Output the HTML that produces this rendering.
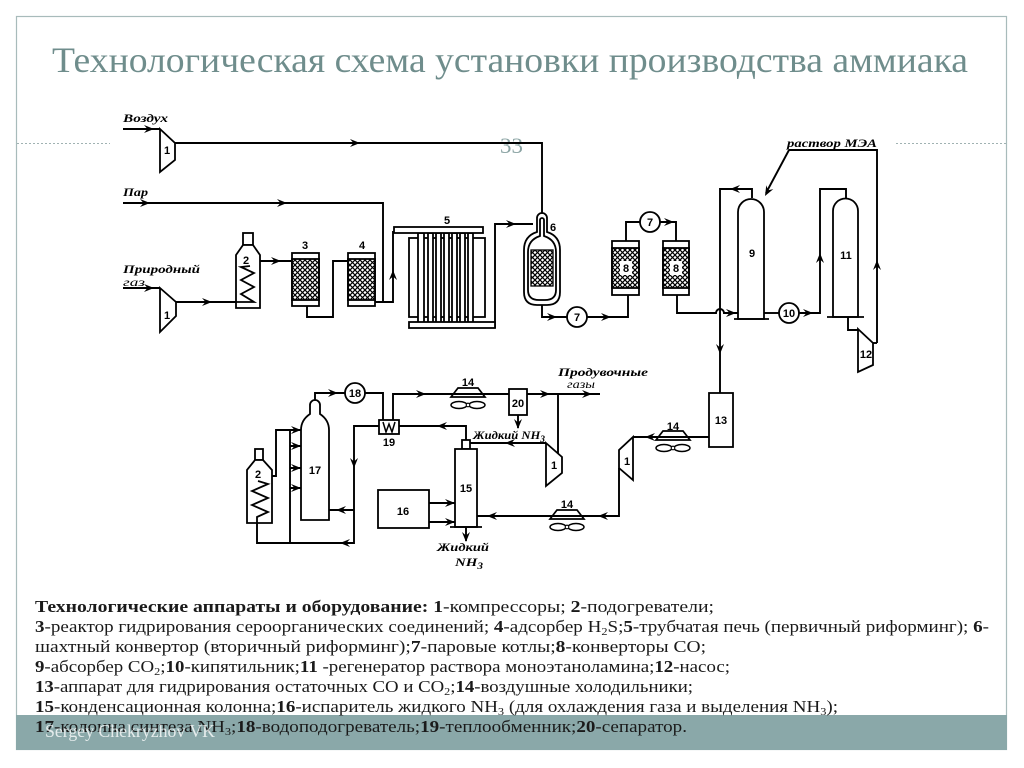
<!DOCTYPE html>
<html><head><meta charset="utf-8">
<style>html,body{margin:0;padding:0;background:#fff;}svg{display:block}</style></head>
<body>
<svg width="1024" height="768" viewBox="0 0 1024 768" xmlns="http://www.w3.org/2000/svg">
<defs>
<pattern id="h" width="5" height="5" patternUnits="userSpaceOnUse"><path d="M0,0L5,5M5,0L0,5M-1,4L1,6M4,-1L6,1" stroke="#000" stroke-width="1.2"/></pattern>
<path id="ar" d="M-10,-4L0,0L-10,4L-6.5,0Z" fill="#000"/>
<g id="cool">
 <path d="M-10,-6L10,-6L17,3L-17,3Z" fill="#fff" stroke="#000" stroke-width="1.7"/>
 <ellipse cx="-9" cy="11" rx="8" ry="3.5" fill="#fff" stroke="#000" stroke-width="1.5"/>
 <ellipse cx="9" cy="11" rx="8" ry="3.5" fill="#fff" stroke="#000" stroke-width="1.5"/>
 <circle cx="0" cy="11" r="1.8" fill="#fff" stroke="#000" stroke-width="1.1"/>
</g>
</defs>

<!-- frame -->
<rect x="16.5" y="16.5" width="990" height="733" fill="none" stroke="#a8bbbb" stroke-width="1.2"/>
<line x1="17" y1="143.5" x2="110" y2="143.5" stroke="#a0b2b2" stroke-dasharray="2,2"/>
<line x1="896" y1="143.5" x2="1006" y2="143.5" stroke="#a0b2b2" stroke-dasharray="2,2"/>

<text x="52" y="72" font-family="Liberation Serif, serif" font-size="36" fill="#6f8d8c" textLength="916" lengthAdjust="spacingAndGlyphs">Технологическая схема установки производства аммиака</text>
<text x="500" y="153" font-family="Liberation Serif, serif" font-size="22" fill="#8aa3a3" textLength="23" lengthAdjust="spacingAndGlyphs">33</text>

<!-- coolers -->
<use href="#cool" transform="translate(673,437)"/>
<use href="#cool" transform="translate(567,516)"/>
<use href="#cool" transform="translate(468,394)"/>

<!-- lines -->
<g stroke="#000" stroke-width="1.9" fill="none">
<path d="M123,129H160"/>
<path d="M175,143H542V216"/>
<path d="M123,203H383V302"/>
<path d="M375,302H393V232H400"/>
<path d="M123,288H160"/>
<path d="M176,302H236"/>
<path d="M252,266V261H292"/>
<path d="M307,306V317H333V261H348"/>
<path d="M495,328V224H533"/>
<path d="M542,305V317H567"/>
<path d="M587,317H628V295"/>
<path d="M626,241V222H640"/>
<path d="M660,222H676V241"/>
<path d="M677,295V313H716A4,4 0 0 1 724,313H738"/>
<path d="M752,198V189H720V393"/>
<path d="M789,150H877V343"/>
<path d="M789,150L766,193"/>
<path d="M764,313H779"/>
<path d="M799,313H820V189H846V199"/>
<path d="M848,317V330H858"/>
<path d="M873,343H877"/>
<path d="M709,437H633"/>
<path d="M619,468V516H477"/>
<path d="M466,527V541"/>
<path d="M466,440V426H399"/>
<path d="M546,443H470"/>
<path d="M558,394V454"/>
<path d="M393,420V394H600"/>
<path d="M518,415V428"/>
<path d="M379,426H354V543H257V523"/>
<path d="M354,510H329"/>
<path d="M315,400V393H345"/>
<path d="M365,393H383V420"/>
<path d="M290,430V543"/>
<path d="M290,446H301M290,468H301M290,488H301"/>
<path d="M266,476H276V430H301"/>
<path d="M429,503H455M429,522H455"/>
</g>

<!-- arrows -->
<g>
<use href="#ar" transform="translate(154,129)"/>
<use href="#ar" transform="translate(360,143)"/>
<use href="#ar" transform="translate(150,203)"/>
<use href="#ar" transform="translate(287,203)"/>
<use href="#ar" transform="translate(154,288)"/>
<use href="#ar" transform="translate(212,302)"/>
<use href="#ar" transform="translate(281,261)"/>
<use href="#ar" transform="translate(516,224)"/>
<use href="#ar" transform="translate(557,317)"/>
<use href="#ar" transform="translate(611,317)"/>
<use href="#ar" transform="translate(674,222)"/>
<use href="#ar" transform="translate(736,313)"/>
<use href="#ar" transform="translate(813,313)"/>
<use href="#ar" transform="translate(338,393)"/>
<use href="#ar" transform="translate(426,394)"/>
<use href="#ar" transform="translate(550,394)"/>
<use href="#ar" transform="translate(592,394)"/>
<use href="#ar" transform="translate(301,430)"/>
<use href="#ar" transform="translate(301,446)"/>
<use href="#ar" transform="translate(301,468)"/>
<use href="#ar" transform="translate(301,488)"/>
<use href="#ar" transform="translate(455,503)"/>
<use href="#ar" transform="translate(455,522)"/>
<use href="#ar" transform="translate(730,189) rotate(180)"/>
<use href="#ar" transform="translate(645,437) rotate(180)"/>
<use href="#ar" transform="translate(598,516) rotate(180)"/>
<use href="#ar" transform="translate(487,516) rotate(180)"/>
<use href="#ar" transform="translate(437,426) rotate(180)"/>
<use href="#ar" transform="translate(505,443) rotate(180)"/>
<use href="#ar" transform="translate(336,510) rotate(180)"/>
<use href="#ar" transform="translate(340,543) rotate(180)"/>
<use href="#ar" transform="translate(393,270) rotate(-90)"/>
<use href="#ar" transform="translate(820,253) rotate(-90)"/>
<use href="#ar" transform="translate(877,260) rotate(-90)"/>
<use href="#ar" transform="translate(720,354) rotate(90)"/>
<use href="#ar" transform="translate(354,468) rotate(90)"/>
<use href="#ar" transform="translate(518,429) rotate(90)"/>
<use href="#ar" transform="translate(466,542) rotate(90)"/>
<use href="#ar" transform="translate(765,196) rotate(118.5)"/>
</g>

<!-- equipment -->
<g stroke="#000" stroke-width="1.8" fill="#fff">
<polygon points="160,129 175,143 175,160 160,172"/>
<polygon points="160,288 176,302 176,316 160,332"/>
<polygon points="633,437 633,480 619,468 619,450"/>
<polygon points="546,443 562,457 562,473 546,486"/>
<polygon points="858,329 873,343 873,365 858,372"/>
<rect x="243" y="233" width="10" height="12"/>
<polygon points="243,245 253,245 260,255 260,308 236,308 236,255"/>
<polyline fill="none" points="236,302 254,302 241,294 254,287 241,280 254,273 241,267 250,266"/>
<rect x="292" y="253" width="27" height="53"/>
<rect x="292" y="259" width="27" height="41" fill="url(#h)"/>
<rect x="348" y="253" width="27" height="53"/>
<rect x="348" y="259" width="27" height="41" fill="url(#h)"/>
<rect x="409" y="238" width="76" height="79"/>
<rect x="418" y="233" width="6" height="90"/>
<rect x="428" y="233" width="5" height="90"/>
<rect x="436" y="233" width="5" height="90"/>
<rect x="444" y="233" width="5" height="90"/>
<rect x="452" y="233" width="5" height="90"/>
<rect x="460" y="233" width="5" height="90"/>
<rect x="468" y="233" width="5" height="90"/>
<rect x="394" y="227" width="89" height="6"/>
<rect x="409" y="322" width="86" height="6"/>
<path d="M537,232L537,218A5,5 0 0 1 547,218L547,232Q560,236 560,250L560,292Q560,305 547,305L537,305Q524,305 524,292L524,250Q524,236 537,232Z"/>
<path d="M540,236L540,220A2,2 0 0 1 544,220L544,236Q556,240 556,252L556,290Q556,300 545,300L539,300Q528,300 528,290L528,252Q528,240 540,236Z"/>
<rect x="531" y="250" width="22" height="36" fill="url(#h)" stroke-width="1.3"/>
<circle cx="577" cy="317" r="10"/>
<circle cx="650" cy="222" r="10"/>
<circle cx="789" cy="313" r="10"/>
<circle cx="355" cy="393" r="10"/>
<rect x="612" y="241" width="27" height="54"/>
<rect x="612" y="248" width="27" height="40" fill="url(#h)"/>
<rect x="663" y="241" width="26" height="54"/>
<rect x="663" y="248" width="26" height="40" fill="url(#h)"/>
<rect x="620" y="261" width="12" height="14" stroke="none"/>
<rect x="670" y="261" width="12" height="14" stroke="none"/>
<path d="M738,319L738,212A13,13 0 0 1 764,212L764,319Z"/>
<line x1="734" y1="319" x2="769" y2="319"/>
<path d="M833,317L833,211A12.5,12.5 0 0 1 858,211L858,317Z"/>
<line x1="827" y1="317" x2="864" y2="317"/>
<rect x="709" y="393" width="24" height="54"/>
<rect x="462" y="440" width="8" height="9"/>
<rect x="455" y="449" width="22" height="78"/>
<line x1="450" y1="527" x2="482" y2="527"/>
<rect x="378" y="490" width="51" height="38"/>
<path d="M301,520L301,430Q301,420 310,414L310,405A5,5 0 0 1 320,405L320,414Q329,420 329,430L329,520Z"/>
<rect x="379" y="420" width="20" height="14"/>
<polyline fill="none" points="383,422 386,432 389,424 392,432 395,422" stroke-width="1.5"/>
<rect x="509" y="389" width="18" height="26"/>
<rect x="255" y="449" width="8" height="11"/>
<polygon points="255,460 263,460 272,470 272,523 247,523 247,470"/>
<polyline fill="none" points="257,523 257,517 268,512 252,505 268,498 252,491 268,484 258,481"/>
</g>

<!-- equipment labels -->
<g font-family="Liberation Sans, sans-serif" font-weight="bold" font-size="11" text-anchor="middle" fill="#000">
<text x="167" y="154">1</text>
<text x="167" y="319">1</text>
<text x="246" y="264">2</text>
<text x="305" y="249">3</text>
<text x="362" y="249">4</text>
<text x="447" y="224">5</text>
<text x="553" y="231">6</text>
<text x="577" y="321">7</text>
<text x="650" y="226">7</text>
<text x="626" y="272">8</text>
<text x="676" y="272">8</text>
<text x="752" y="257">9</text>
<text x="789" y="317">10</text>
<text x="846" y="259">11</text>
<text x="866" y="358">12</text>
<text x="721" y="424">13</text>
<text x="673" y="430">14</text>
<text x="567" y="508">14</text>
<text x="468" y="386">14</text>
<text x="627" y="465">1</text>
<text x="554" y="469">1</text>
<text x="466" y="492">15</text>
<text x="403" y="515">16</text>
<text x="315" y="474">17</text>
<text x="355" y="397">18</text>
<text x="389" y="446">19</text>
<text x="518" y="407">20</text>
<text x="258" y="478">2</text>
</g>

<!-- stream labels -->
<g font-family="Liberation Serif, serif" font-style="italic" font-weight="bold" font-size="12" fill="#000">
<text x="123" y="122" textLength="45" lengthAdjust="spacingAndGlyphs">Воздух</text>
<text x="123" y="196" textLength="25" lengthAdjust="spacingAndGlyphs">Пар</text>
<text x="123" y="273" textLength="77" lengthAdjust="spacingAndGlyphs">Природный</text>
<text x="123" y="286" font-weight="normal" textLength="22" lengthAdjust="spacingAndGlyphs">газ</text>
<text x="787" y="147" textLength="90" lengthAdjust="spacingAndGlyphs">раствор  МЭА</text>
<text x="558" y="376" textLength="90" lengthAdjust="spacingAndGlyphs">Продувочные</text>
<text x="567" y="388" font-weight="normal" textLength="28" lengthAdjust="spacingAndGlyphs">газы</text>
<text x="473" y="439" textLength="72" lengthAdjust="spacingAndGlyphs">Жидкий NH<tspan font-size="9" dy="3">3</tspan></text>
<text x="437" y="551" textLength="52" lengthAdjust="spacingAndGlyphs">Жидкий</text>
<text x="455" y="566" textLength="28" lengthAdjust="spacingAndGlyphs">NH<tspan font-size="9" dy="3">3</tspan></text>
</g>

<!-- footer band -->
<rect x="16" y="715" width="991" height="35" fill="#8aa8a9"/>

<!-- legend text -->
<g font-family="Liberation Serif, serif" font-size="17" fill="#1a1a1a">
<text x="35" y="612" textLength="679" lengthAdjust="spacingAndGlyphs"><tspan font-weight="bold">Технологические аппараты и оборудование: 1</tspan>-компрессоры; <tspan font-weight="bold">2</tspan>-подогреватели;</text>
<text x="35" y="632" textLength="954" lengthAdjust="spacingAndGlyphs"><tspan font-weight="bold">3</tspan>-реактор гидрирования сероорганических соединений; <tspan font-weight="bold">4</tspan>-адсорбер H<tspan font-size="11" dy="3">2</tspan><tspan dy="-3">S;</tspan><tspan font-weight="bold">5</tspan>-трубчатая печь (первичный риформинг); <tspan font-weight="bold">6</tspan>-</text>
<text x="35" y="652" textLength="671" lengthAdjust="spacingAndGlyphs">шахтный конвертор (вторичный риформинг);<tspan font-weight="bold">7</tspan>-паровые котлы;<tspan font-weight="bold">8</tspan>-конверторы СО;</text>
<text x="35" y="672" textLength="695" lengthAdjust="spacingAndGlyphs"><tspan font-weight="bold">9</tspan>-абсорбер СО<tspan font-size="11" dy="3">2</tspan><tspan dy="-3">;</tspan><tspan font-weight="bold">10</tspan>-кипятильник;<tspan font-weight="bold">11</tspan> -регенератор раствора моноэтаноламина;<tspan font-weight="bold">12</tspan>-насос;</text>
<text x="35" y="692" textLength="658" lengthAdjust="spacingAndGlyphs"><tspan font-weight="bold">13</tspan>-аппарат для гидрирования остаточных СО и СО<tspan font-size="11" dy="3">2</tspan><tspan dy="-3">;</tspan><tspan font-weight="bold">14</tspan>-воздушные холодильники;</text>
<text x="35" y="712" textLength="803" lengthAdjust="spacingAndGlyphs"><tspan font-weight="bold">15</tspan>-конденсационная колонна;<tspan font-weight="bold">16</tspan>-испаритель жидкого NH<tspan font-size="11" dy="3">3</tspan><tspan dy="-3"> (для охлаждения газа и выделения NH</tspan><tspan font-size="11" dy="3">3</tspan><tspan dy="-3">);</tspan></text>
<text x="35" y="732" textLength="652" lengthAdjust="spacingAndGlyphs"><tspan font-weight="bold">17</tspan>-колонна синтеза NH<tspan font-size="11" dy="3">3</tspan><tspan dy="-3">;</tspan><tspan font-weight="bold">18</tspan>-водоподогреватель;<tspan font-weight="bold">19</tspan>-теплообменник;<tspan font-weight="bold">20</tspan>-сепаратор.</text>
</g>

<text x="45" y="737" font-family="Liberation Serif, serif" font-size="18" fill="#ffffff" fill-opacity="0.78" textLength="170" lengthAdjust="spacingAndGlyphs">Sergey Chekryzhov VK</text>
</svg>
</body></html>
